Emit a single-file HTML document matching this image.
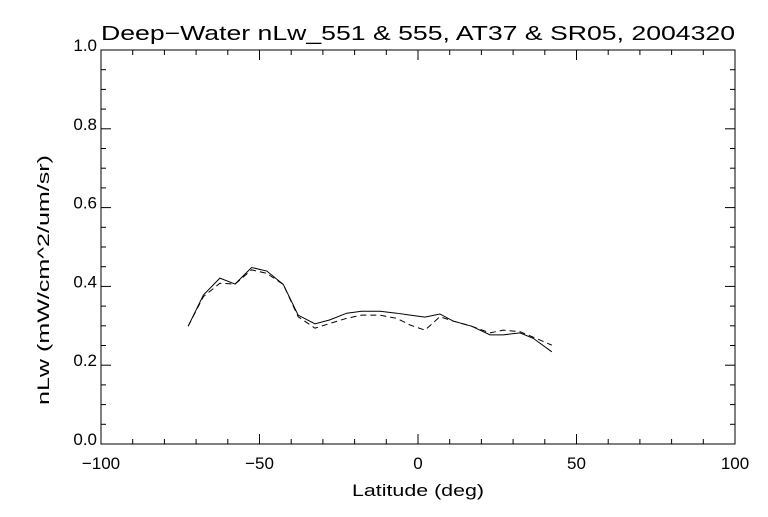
<!DOCTYPE html>
<html><head><meta charset="utf-8"><style>
body{margin:0;background:#fff}
svg text{font-family:"Liberation Sans",sans-serif;fill:#000}
</style></head><body>
<svg width="768" height="512">
<rect width="768" height="512" fill="#fff"/>
<text x="101" y="40" font-size="20" textLength="634" lengthAdjust="spacingAndGlyphs">Deep−Water nLw_551 &amp; 555, AT37 &amp; SR05, 2004320</text>
<g id="axes"></g>
<text x="352" y="496" font-size="17" textLength="132" lengthAdjust="spacingAndGlyphs">Latitude (deg)</text>
<text transform="translate(49,405) rotate(-90)" font-size="17" textLength="250" lengthAdjust="spacingAndGlyphs">nLw (mW/cm^2/um/sr)</text>
<g id="series"></g>
</svg>
<script>
const lats=[-72.5,-67.7,-62.5,-57.7,-52.5,-47.7,-42.5,-37.8,-32.5,-27.8,-22.5,-17.8,-12,-6.7,-2.5,2.2,6.9,11.1,16.9,22.7,26.9,32.2,36.4,42.2];
const nlw551=[.299,.378,.421,.406,.448,.439,.405,.327,.305,.315,.332,.337,.337,.332,.327,.322,.330,.312,.299,.277,.277,.282,.268,.234];
const nlw555=[.299,.374,.408,.406,.442,.433,.405,.323,.294,.306,.319,.327,.327,.319,.302,.289,.323,.312,.299,.282,.289,.285,.271,.251];
const xTicks=[-100,-50,0,50,100];
const yTicks=[0.0,0.2,0.4,0.6,0.8,1.0];
const NS="http://www.w3.org/2000/svg";
const L=101,R=735,T=50,B=444;
const xs=v=>L+(v+100)/200*(R-L);
const ys=v=>B-v*(B-T);
const ax=document.getElementById('axes');
function mk(tag,attrs,parent){const e=document.createElementNS(NS,tag);for(const k in attrs)e.setAttribute(k,attrs[k]);parent.appendChild(e);return e;}
const frame=mk('rect',{x:L,y:T,width:R-L,height:B-T,fill:'none',stroke:'#000','stroke-width':1},ax);


for(let v=-100;v<=100;v+=10){
  const big=v%50===0,len=big?10:5,x=xs(v);
  const t1=mk('line',{x1:x,x2:x,y1:B,y2:B-len,stroke:'#000'},ax);
  
  
  const t2=mk('line',{x1:x,x2:x,y1:T,y2:T+len,stroke:'#000'},ax);
  
  
}
for(let i=0;i<=20;i++){
  const v=i*0.05,big=i%4===0,len=big?10:5,y=ys(v);
  const t1=mk('line',{x1:L,x2:L+len,y1:y,y2:y,stroke:'#000'},ax);
  
  
  const t2=mk('line',{x1:R,x2:R-len,y1:y,y2:y,stroke:'#000'},ax);
  
  
}
xTicks.forEach(v=>{const t=mk('text',{x:xs(v),y:B+25,'font-size':17,'text-anchor':'middle'},ax);t.textContent=v===-100?'−100':v===-50?'−50':String(v);
  
  });
yTicks.forEach(v=>{const t=mk('text',{x:L-4,y:ys(v)+1,'font-size':17,'text-anchor':'end'},ax);t.textContent=v.toFixed(1);
  
  });
const sg=document.getElementById('series');
function pts(vals){return lats.map((la,i)=>xs(la)+','+ys(vals[i])).join(' ');}
const s1=mk('polyline',{points:pts(nlw551),fill:'none',stroke:'#000','stroke-width':1},sg);


const s2=mk('polyline',{points:pts(nlw555),fill:'none',stroke:'#000','stroke-width':1,'stroke-dasharray':'6,4'},sg);


</script>
</body></html>
